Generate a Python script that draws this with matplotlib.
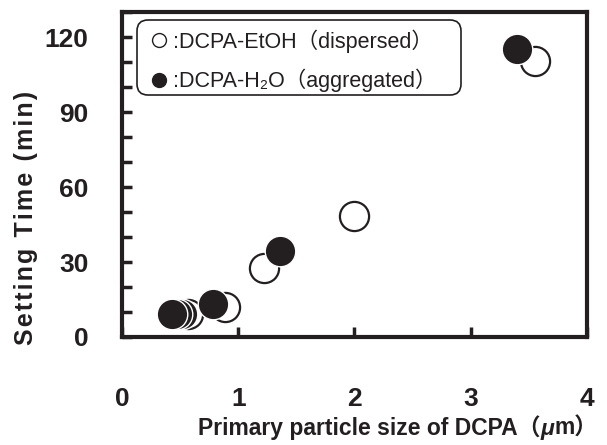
import matplotlib
matplotlib.use('Agg')
from matplotlib import pyplot as plt
from matplotlib.lines import Line2D
from matplotlib.patches import FancyBboxPatch
from matplotlib.offsetbox import TextArea, HPacker, AnchoredOffsetbox
from matplotlib.ticker import MultipleLocator

# > data
# dispersed (DCPA-EtOH), open circles
etoh_size = [0.57, 0.89, 1.22, 2.00, 3.55]
etoh_time = [9.0, 12.0, 27.6, 48.4, 110.4]
# aggregated (DCPA-H2O), filled circles; drawn last-to-first so left ones sit on top
h2o_size = [3.40, 1.36, 0.78, 0.52, 0.47, 0.43]
h2o_time = [115.2, 34.4, 13.2, 9.0, 9.0, 9.0]

x_ticks = [0, 1, 2, 3, 4]
y_ticks = [0, 30, 60, 90, 120]

legend_labels = [':DCPA-EtOH\uff08dispersed\uff09', ':DCPA-H\u2082O\uff08aggregated\uff09']
ink = '#231f20'


def main():
    plt.rcParams['font.family'] = ['Liberation Sans', 'Noto Sans CJK JP', 'DejaVu Sans']

    fig = plt.figure(figsize=(6.07, 4.45), dpi=100)
    ax = fig.add_axes([0.201, 0.2427, 0.766, 0.7303])

    ax.plot(etoh_size, etoh_time, linestyle='none', marker='o', markersize=21,
            markerfacecolor='white', markeredgecolor=ink, markeredgewidth=1.6)
    ax.plot(h2o_size, h2o_time, linestyle='none', marker='o', markersize=22,
            markerfacecolor=ink, markeredgecolor='white', markeredgewidth=1.0)

    ax.set_xlim(0, 4.0)
    ax.set_ylim(0, 130)
    ax.set_xticks(x_ticks)
    ax.set_yticks(y_ticks)
    ax.yaxis.set_minor_locator(MultipleLocator(10))

    for side in ['left', 'right', 'top', 'bottom']:
        ax.spines[side].set_linewidth(3.0)
        ax.spines[side].set_color(ink)

    ax.tick_params(axis='both', which='both', direction='in', length=7, width=2.5,
                   color=ink, top=False, right=False)
    ax.tick_params(axis='y', which='major', pad=24, labelsize=19)
    ax.tick_params(axis='x', which='major', pad=36, labelsize=19)
    ax.tick_params(axis='x', which='minor', bottom=False)
    for label in ax.get_xticklabels() + ax.get_yticklabels():
        label.set_fontweight('bold')
        label.set_color(ink)

    # x label in pieces so the micro sign can be italic next to full-width brackets
    bold = dict(fontsize=16.5, fontweight='bold', color=ink)
    parts = [
        TextArea('Primary particle size of DCPA\uff08', textprops=bold),
        TextArea('\u03bc', textprops=dict(bold, fontstyle='italic')),
        TextArea('m\uff09', textprops=bold),
    ]
    xlabel_box = AnchoredOffsetbox(loc='upper center', child=HPacker(children=parts, align='baseline', pad=0, sep=0),
                                   bbox_to_anchor=(398 / 607, 1 - 415 / 445), bbox_transform=fig.transFigure,
                                   frameon=False, pad=0, borderpad=0)
    fig.add_artist(xlabel_box)

    # letter-spaced y label
    ax.set_ylabel('\u200a'.join('Setting Time (min)'), fontsize=18, fontweight='bold', color=ink)
    ax.yaxis.set_label_coords(-0.18, 0.366)

    # legend: rounded frame drawn by hand, entries via legend
    frame = FancyBboxPatch((137 / 607, 1 - 95 / 445), 324 / 607, 75 / 445,
                           boxstyle='round,pad=0,rounding_size=0.018', mutation_aspect=607 / 445,
                           transform=fig.transFigure, facecolor='white', edgecolor=ink, linewidth=1.2,
                           clip_on=False, zorder=5)
    ax.add_patch(frame)
    handles = [
        Line2D([], [], linestyle='none', marker='o', markersize=10,
               markerfacecolor='white', markeredgecolor=ink, markeredgewidth=1.0),
        Line2D([], [], linestyle='none', marker='o', markersize=10,
               markerfacecolor=ink, markeredgecolor=ink),
    ]
    leg = ax.legend(handles, legend_labels, loc='upper left', bbox_to_anchor=(0.058, 0.947),
                    fontsize=15.5, frameon=False, handlelength=0.9, handletextpad=0.22,
                    borderpad=0, labelspacing=0.75, borderaxespad=0)
    leg.set_zorder(6)
    for text in leg.get_texts():
        text.set_color(ink)

    fig.savefig('out.png', dpi=100)


if __name__ == '__main__':
    main()
